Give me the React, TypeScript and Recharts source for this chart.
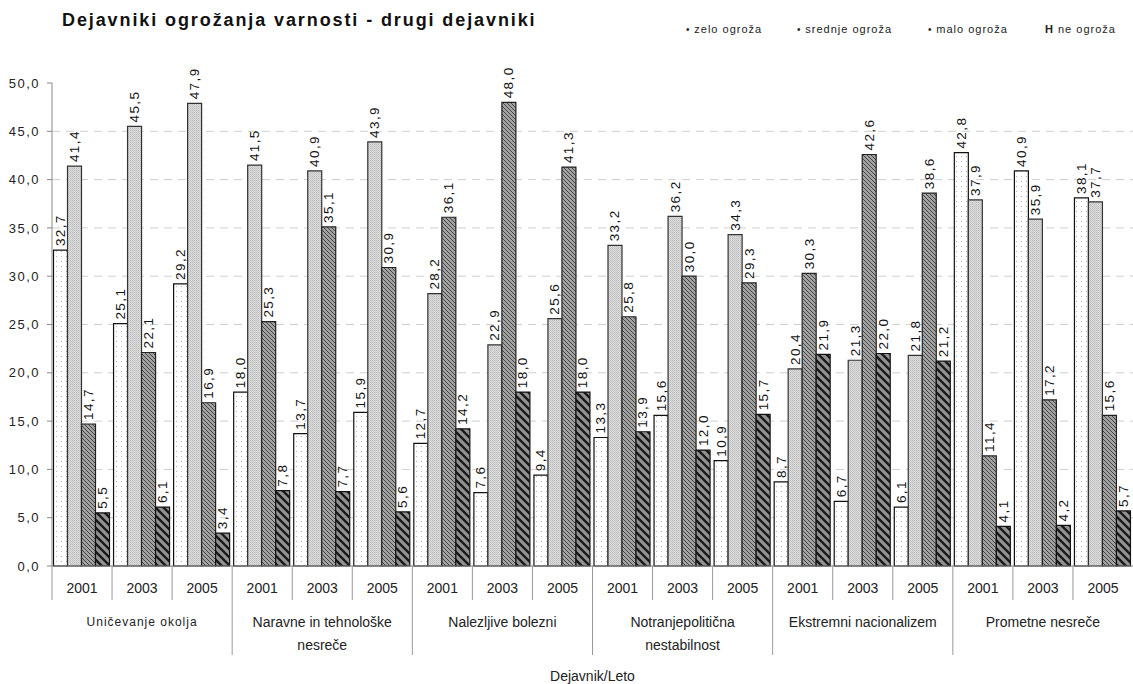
import React from 'react';
import {
  BarChart,
  Bar,
  XAxis,
  YAxis,
  CartesianGrid,
  LabelList,
} from 'recharts';

// Kategorije in vrednosti (odčitane z grafa)
const factorLines: string[][] = [
  ['Uničevanje  okolja'],
  ['Naravne in tehnološke', 'nesreče'],
  ['Nalezljive bolezni'],
  ['Notranjepolitična', 'nestabilnost'],
  ['Ekstremni nacionalizem'],
  ['Prometne nesreče'],
];
const years = ['2001', '2003', '2005'];
const seriesNames = ['zelo ogroža', 'srednje ogroža', 'malo ogroža', 'ne ogroža'];
const yTicks = [0, 5, 10, 15, 20, 25, 30, 35, 40, 45, 50];
const gridValues = [5, 10, 15, 20, 25, 30, 35, 40, 45];

const zelo = [32.7, 25.1, 29.2, 18.0, 13.7, 15.9, 12.7, 7.6, 9.4, 13.3, 15.6, 10.9, 8.7, 6.7, 6.1, 42.8, 40.9, 38.1];
const srednje = [41.4, 45.5, 47.9, 41.5, 40.9, 43.9, 28.2, 22.9, 25.6, 33.2, 36.2, 34.3, 20.4, 21.3, 21.8, 37.9, 35.9, 37.7];
const malo = [14.7, 22.1, 16.9, 25.3, 35.1, 30.9, 36.1, 48.0, 41.3, 25.8, 30.0, 29.3, 30.3, 42.6, 38.6, 11.4, 17.2, 15.6];
const ne = [5.5, 6.1, 3.4, 7.8, 7.7, 5.6, 14.2, 18.0, 18.0, 13.9, 12.0, 15.7, 21.9, 22.0, 21.2, 4.1, 4.2, 5.7];

const data = zelo.map((_, i) => ({
  key: `${Math.floor(i / 3)}-${years[i % 3]}`,
  year: years[i % 3],
  zelo: zelo[i],
  srednje: srednje[i],
  malo: malo[i],
  ne: ne[i],
}));

const FONT = "'Liberation Sans', Arial, sans-serif";
const W = 1133;
const H = 684;
const TOP = 83;
const LEFT = 52;
const X_AXIS_H = 118;
const PLOT_BOTTOM = H - X_AXIS_H;
const BAND = (W - LEFT) / data.length;

const fmt = (v: number) => Number(v).toFixed(1).replace('.', ',');

const renderValue = (props: any) => {
  const { x, y, width, value } = props;
  const cx = Number(x) + Number(width) / 2;
  const ty = Number(y) - 4;
  return (
    <text
      x={cx}
      y={ty}
      transform={`rotate(-90 ${cx} ${ty})`}
      textAnchor="start"
      dominantBaseline="central"
      fontSize={13.5}
      letterSpacing={1.4}
      fill="#111"
      fontFamily={FONT}
    >
      {fmt(value)}
    </text>
  );
};

const CategoryTick = (props: any) => {
  const { x, payload } = props;
  const idx: number = payload.index;
  const left = x - BAND / 2;
  const lines = factorLines[Math.floor(idx / 3)];
  const isFactorStart = idx % 3 === 0 && idx > 0;
  return (
    <g>
      <line
        x1={left}
        x2={left}
        y1={PLOT_BOTTOM}
        y2={isFactorStart ? 655 : 600}
        stroke="#999"
        strokeWidth={1}
      />
      <text x={x} y={588} textAnchor="middle" dominantBaseline="central" fontSize={14} fill="#222" fontFamily={FONT}>
        {payload.value}
      </text>
      {idx % 3 === 1 &&
        lines.map((ln, k) => (
          <text
            key={k}
            x={x}
            y={622 + k * 23}
            textAnchor="middle"
            dominantBaseline="central"
            fontSize={idx === 1 ? 12 : 14}
            letterSpacing={idx === 1 ? 1 : 0}
            fill="#222"
            fontFamily={FONT}
          >
            {ln}
          </text>
        ))}
    </g>
  );
};

const legendPos = [686, 797, 928, 1045];

export default function App() {
  return (
    <div style={{ position: 'absolute', left: 0, top: 0, width: W, height: H, background: '#fff', fontFamily: FONT }}>
      <div
        style={{
          position: 'absolute',
          left: 62,
          top: 10,
          fontSize: 18,
          fontWeight: 'bold',
          letterSpacing: 1.9,
          color: '#111',
          whiteSpace: 'nowrap',
        }}
      >
        Dejavniki ogrožanja varnosti - drugi dejavniki
      </div>
      {seriesNames.map((n, i) => (
        <div
          key={n}
          style={{
            position: 'absolute',
            left: legendPos[i],
            top: 23,
            fontSize: 11,
            letterSpacing: 1,
            color: '#222',
            whiteSpace: 'nowrap',
          }}
        >
          {i < 3 ? <span style={{ fontSize: 10 }}>• </span> : <b>H </b>}
          {n}
        </div>
      ))}
      <BarChart
        width={W}
        height={H}
        data={data}
        margin={{ top: TOP, right: 0, left: 0, bottom: 0 }}
        barCategoryGap={1.5}
        barGap={0}
      >
        <defs>
          <pattern id="pZelo" width="5" height="5" patternUnits="userSpaceOnUse">
            <rect width="5" height="5" fill="#fff" />
            <rect x="1" y="1" width="1" height="1" fill="#b5b5b5" />
          </pattern>
          <pattern id="pSrednje" width="2" height="2" patternUnits="userSpaceOnUse">
            <rect width="2" height="2" fill="#dcdcdc" />
            <rect x="0" y="0" width="1" height="1" fill="#bdbdbd" />
            <rect x="1" y="1" width="1" height="1" fill="#c9c9c9" />
          </pattern>
          <pattern id="pMalo" width="4" height="4" patternUnits="userSpaceOnUse">
            <rect width="4" height="4" fill="#a2a2a2" />
            <path d="M-1,-1 L5,5 M-1,3 L1,5 M3,-1 L5,1" stroke="#444" strokeWidth="1" />
          </pattern>
          <pattern id="pNe" width="8" height="8" patternUnits="userSpaceOnUse">
            <rect width="8" height="8" fill="#929292" />
            <path d="M-2,-2 L10,10 M-2,6 L2,10 M6,-2 L10,2" stroke="#1a1a1a" strokeWidth="2.4" />
          </pattern>
        </defs>
        <CartesianGrid
          vertical={false}
          horizontalValues={gridValues}
          stroke="#cfcfcf"
          strokeDasharray="8 6"
        />
        <XAxis
          dataKey="year"
          height={X_AXIS_H}
          interval={0}
          tickLine={false}
          axisLine={{ stroke: '#777' }}
          tick={<CategoryTick />}
          label={{
            value: 'Dejavnik/Leto',
            position: 'insideBottom',
            offset: 3,
            fontSize: 14,
            fill: '#222',
            fontFamily: FONT,
          }}
        />
        <YAxis
          width={LEFT}
          domain={[0, 50]}
          ticks={yTicks}
          interval={0}
          tickSize={5}
          tickMargin={7}
          tickFormatter={fmt}
          axisLine={{ stroke: '#888' }}
          tickLine={{ stroke: '#888' }}
          tick={{ fontSize: 13, fill: '#222', fontFamily: FONT, letterSpacing: 1.5 }}
        />
        <Bar dataKey="zelo" fill="url(#pZelo)" stroke="#111" strokeWidth={1.2} isAnimationActive={false}>
          <LabelList dataKey="zelo" content={renderValue} />
        </Bar>
        <Bar dataKey="srednje" fill="url(#pSrednje)" stroke="#333" strokeWidth={1.2} isAnimationActive={false}>
          <LabelList dataKey="srednje" content={renderValue} />
        </Bar>
        <Bar dataKey="malo" fill="url(#pMalo)" stroke="#222" strokeWidth={1.2} isAnimationActive={false}>
          <LabelList dataKey="malo" content={renderValue} />
        </Bar>
        <Bar dataKey="ne" fill="url(#pNe)" stroke="#111" strokeWidth={1.2} isAnimationActive={false}>
          <LabelList dataKey="ne" content={renderValue} />
        </Bar>
      </BarChart>
    </div>
  );
}
